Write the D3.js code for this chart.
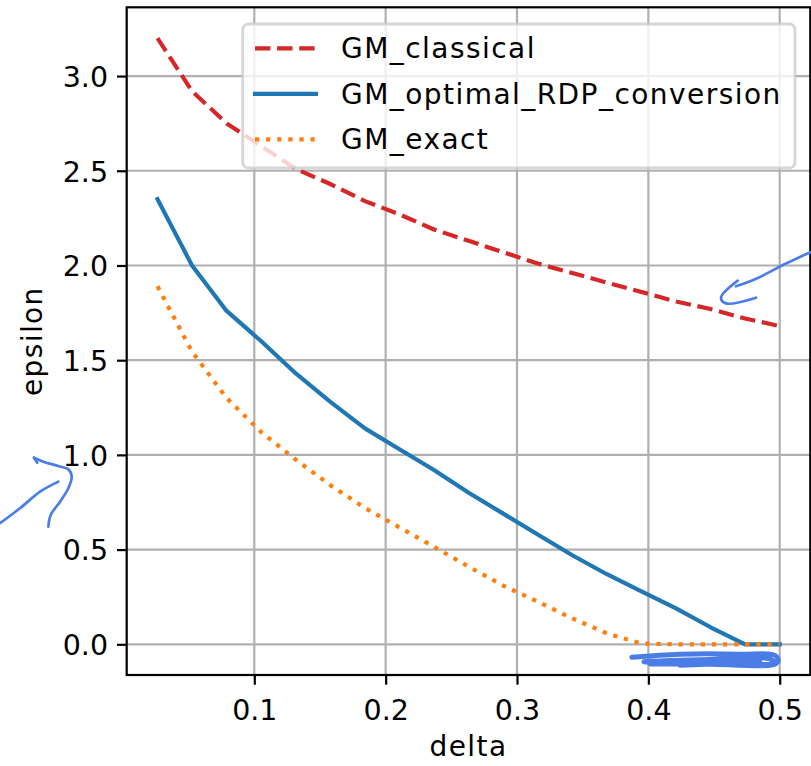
<!DOCTYPE html>
<html>
<head>
<meta charset="utf-8">
<script src="https://cdn.jsdelivr.net/npm/d3@7"></script>
<style>
  body { margin: 0; background: #fff; }
  svg { display: block; font-family: "DejaVu Sans", sans-serif; }
</style>
</head>
<body>
<div id="container"></div>
<script>
const width = 811, height = 766;

// data
const delta = [0.0263, 0.0526, 0.0789, 0.1053, 0.1316, 0.1579, 0.1842, 0.2105, 0.2368, 0.2632,
               0.2895, 0.3158, 0.3421, 0.3684, 0.3947, 0.4211, 0.4474, 0.4737, 0.5];
const gmClassical = [3.20, 2.92, 2.75, 2.63, 2.51, 2.43, 2.34, 2.27, 2.19, 2.13,
                     2.07, 2.01, 1.96, 1.91, 1.86, 1.81, 1.77, 1.72, 1.68];
const gmOptimalRdp = [2.35, 2.00, 1.76, 1.60, 1.43, 1.28, 1.14, 1.03, 0.92, 0.80,
                      0.69, 0.58, 0.47, 0.37, 0.28, 0.19, 0.09, 0.0, 0.0];
const gmExact = [1.89, 1.545, 1.30, 1.12, 0.975, 0.84, 0.72, 0.617, 0.515, 0.41,
                 0.31, 0.225, 0.137, 0.058, 0.004, 0, 0, 0, 0];
const xTicks = [0.1, 0.2, 0.3, 0.4, 0.5];
const yTicks = [0.0, 0.5, 1.0, 1.5, 2.0, 2.5, 3.0];

const series = [
  {name: "GM_classical", values: gmClassical, color: "#d62728", dash: "15.4,6.7", cap: "butt"},
  {name: "GM_optimal_RDP_conversion", values: gmOptimalRdp, color: "#1f77b4", dash: null, cap: "square"},
  {name: "GM_exact", values: gmExact, color: "#ff7f0e", dash: "4.2,6.9", cap: "butt"}
];

const plot = {left: 126.7, right: 810.3, top: 7.3, bottom: 675};
const x = d3.scaleLinear().domain([0.00285, 0.5233]).range([plot.left, plot.right]);
const y = d3.scaleLinear().domain([-0.162, 3.363]).range([plot.bottom, plot.top]);

const svg = d3.select("#container").append("svg")
    .attr("width", width)
    .attr("height", height);

svg.append("rect").attr("width", width).attr("height", height).attr("fill", "#fff");

// grid
const grid = svg.append("g").attr("stroke", "#b0b0b0").attr("stroke-width", 2.2);
grid.selectAll("line.v").data(xTicks).enter().append("line")
    .attr("x1", d => x(d)).attr("x2", d => x(d))
    .attr("y1", plot.top).attr("y2", plot.bottom);
grid.selectAll("line.h").data(yTicks).enter().append("line")
    .attr("x1", plot.left).attr("x2", plot.right)
    .attr("y1", d => y(d)).attr("y2", d => y(d));

// curves
const line = d3.line()
    .x((d, i) => x(delta[i]))
    .y(d => y(d));

svg.append("g").selectAll("path")
    .data(series)
    .enter().append("path")
    .attr("d", d => line(d.values))
    .attr("fill", "none")
    .attr("stroke", d => d.color)
    .attr("stroke-width", 4.17)
    .attr("stroke-linejoin", "round")
    .attr("stroke-linecap", d => d.cap)
    .attr("stroke-dasharray", d => d.dash);

// axes
const xAxis = d3.axisBottom(x).tickValues(xTicks).tickFormat(d3.format(".1f"))
    .tickSize(9.7).tickPadding(9);
const yAxis = d3.axisLeft(y).tickValues(yTicks).tickFormat(d3.format(".1f"))
    .tickSize(9.7).tickPadding(9);

const gx = svg.append("g").attr("transform", `translate(0,${plot.bottom})`).call(xAxis);
const gy = svg.append("g").attr("transform", `translate(${plot.left},0)`).call(yAxis);
[gx, gy].forEach(g => {
  g.select(".domain").remove();
  g.selectAll(".tick line").attr("stroke", "#000").attr("stroke-width", 2.2);
  g.selectAll(".tick text").attr("fill", "#000")
      .style("font-size", "28.5px").style("font-family", "DejaVu Sans");
});
gx.selectAll(".tick text").attr("dy", null).attr("y", 45);
gy.selectAll(".tick text").attr("dy", "0.36em");

// spines
svg.append("rect")
    .attr("x", plot.left).attr("y", plot.top)
    .attr("width", plot.right - plot.left).attr("height", plot.bottom - plot.top)
    .attr("fill", "none").attr("stroke", "#000").attr("stroke-width", 2.2);

// axis labels
svg.append("text")
    .attr("x", (plot.left + plot.right) / 2).attr("y", 756)
    .attr("text-anchor", "middle").style("font-size", "28px")
    .style("letter-spacing", "1.4px")
    .text("delta");
svg.append("text")
    .attr("transform", `translate(42,${(plot.top + plot.bottom) / 2}) rotate(-90)`)
    .attr("text-anchor", "middle").style("font-size", "28px")
    .style("letter-spacing", "1.4px")
    .text("epsilon");

// legend
const legend = svg.append("g");
legend.append("rect")
    .attr("x", 242.7).attr("y", 24).attr("width", 552.3).attr("height", 144)
    .attr("rx", 5.6)
    .attr("fill", "#fff").attr("fill-opacity", 0.8)
    .attr("stroke", "#cccccc").attr("stroke-opacity", 0.8).attr("stroke-width", 2.78);
const items = legend.selectAll("g.item").data(series).enter().append("g")
    .attr("transform", (d, i) => `translate(0,${48.3 + i * 45.5})`);
items.append("line")
    .attr("x1", 255).attr("x2", 316)
    .attr("stroke", d => d.color).attr("stroke-width", 4.17)
    .attr("stroke-linecap", d => d.cap)
    .attr("stroke-dasharray", d => d.dash);
items.append("text")
    .attr("x", 341).attr("dy", "0.36em")
    .style("font-size", "28px")
    .style("letter-spacing", "1.45px")
    .text(d => d.name);

// hand-drawn annotations (in data coordinates)
const scribbles = [
  [[0.5233, 2.07], [0.5048, 2.01], [0.4820, 1.93], [0.4667, 1.89]],
  [[0.4680, 1.92], [0.4553, 1.83], [0.4591, 1.80], [0.4820, 1.83]],
  [[-0.0936, 0.639], [-0.0784, 0.718], [-0.0631, 0.806], [-0.0492, 0.859]],
  [[-0.0568, 0.621], [-0.0550, 0.683], [-0.0479, 0.753], [-0.0416, 0.824], [-0.0390, 0.885],
   [-0.0416, 0.924], [-0.0492, 0.941], [-0.0606, 0.964], [-0.0677, 0.985]],
  [[-0.0677, 0.985], [-0.0652, 0.959]],
  [[0.3875, -0.068], [0.4240, -0.052], [0.4697, -0.052], [0.4970, -0.061], [0.4985, -0.093],
   [0.4392, -0.098], [0.3966, -0.092], [0.4392, -0.082], [0.4924, -0.077], [0.4970, -0.104],
   [0.4392, -0.104], [0.4012, -0.103], [0.4392, -0.089], [0.4848, -0.093], [0.4240, -0.110]]
];
const scribbleLine = d3.line().x(d => x(d[0])).y(d => y(d[1])).curve(d3.curveCatmullRom);
svg.append("g").selectAll("path").data(scribbles).enter().append("path")
    .attr("d", scribbleLine)
    .attr("fill", "none")
    .attr("stroke", "#4a7ee6")
    .attr("stroke-width", (d, i) => i === 5 ? 5 : 2.7)
    .attr("stroke-linecap", "round")
    .attr("stroke-linejoin", "round");
</script>
</body>
</html>
